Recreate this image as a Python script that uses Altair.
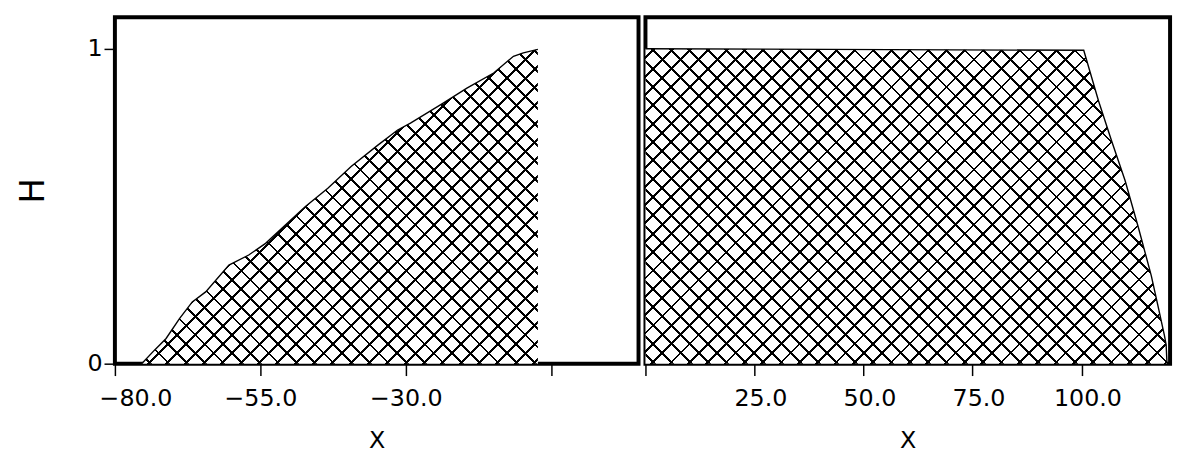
import math
import altair as alt
import pandas as pd

# ---- data ----
left_x = [-75.4, -73.2, -71.2, -68.9, -66.7, -64.4, -60.4, -57.0, -54.1, -50.7, -47.3,
          -43.4, -39.4, -34.8, -31.4, -29.2, -23.5, -19.5, -14.9, -11.5, -9.8, -7.3]
left_h = [0.0, 0.043, 0.080, 0.143, 0.196, 0.228, 0.313, 0.345, 0.382, 0.440, 0.498,
          0.557, 0.626, 0.694, 0.742, 0.764, 0.828, 0.875, 0.923, 0.976, 0.987, 0.998]

right_x = [0.0, 100.5, 103.9, 106.9, 110.0, 113.0, 116.0, 117.5, 119.0, 119.4, 119.6]
right_h = [1.0, 0.995, 0.834, 0.707, 0.581, 0.434, 0.279, 0.185, 0.090, 0.060, 0.0]

left_ticks = [-80, -55, -30, -5]
right_ticks = [0, 25, 50, 75, 100]

LEFT_DOMAIN = [-80, 10]
RIGHT_DOMAIN = [0, 120.3]
Y_DOMAIN = [0, 1.1]
LEFT_W = 529
RIGHT_W = 530
PANEL_H = 350
FONT = "DejaVu Sans"


def hatch(W, H, direction, on, off, spacing=13.1, lw=2.0):
    """Linear gradient that draws parallel 45-degree stripes over a bbox W x H (px)."""
    s = 1 / math.sqrt(2)
    L = (W + H) * s
    k = L / ((W * W + H * H) / 2)
    if direction == "back":      # "\" lines
        x1, y1, x2, y2 = 0, 1, k * s * W, 1 - k * s * H
    else:                        # "/" lines
        x1, y1, x2, y2 = 0, 0, k * s * W, k * s * H
    hw = lw / 2 / L
    stops = [alt.GradientStop(offset=0, color=off)]
    i = 0
    while True:
        t = (i + 0.5) * spacing / L
        if t - hw >= 1:
            break
        a = max(0.0, t - hw)
        b = min(1.0, t + hw)
        stops += [alt.GradientStop(offset=a, color=off), alt.GradientStop(offset=a, color=on),
                  alt.GradientStop(offset=b, color=on), alt.GradientStop(offset=b, color=off)]
        i += 1
    stops.append(alt.GradientStop(offset=1, color=off))
    return alt.LinearGradient(gradient="linear", stops=stops, x1=x1, y1=y1, x2=x2, y2=y2)


def panel(xs, hs, xdom, ticks, hidden, show_y, width):
    df = pd.DataFrame({"x": xs, "H": hs})
    W = (max(xs) - min(xs)) / (xdom[1] - xdom[0]) * width
    H = max(hs) / (Y_DOMAIN[1] - Y_DOMAIN[0]) * PANEL_H
    axis_opts = dict(values=ticks, format=".1f",
                     labelExpr=f"datum.value == {hidden} ? '' : datum.label",
                     title="X", tickSize=12, labelPadding=11,
                     titleBaseline="middle", titleY=78)
    if show_y:
        axis_opts.update(labelFlush=True, labelFlushOffset=16)
    else:
        axis_opts.update(labelOffset=6)
    xenc = alt.X(
        "x:Q",
        scale=alt.Scale(domain=xdom, nice=False, zero=False),
        axis=alt.Axis(**axis_opts),
    )
    if show_y:
        yaxis = alt.Axis(values=[0, 1], format="d", title="H", tickSize=11, labelPadding=2,
                         titleFontSize=34, titleX=-82, titleY=175,
                         titleBaseline="middle", titleAlign="center")
    else:
        yaxis = None
    yenc = alt.Y("H:Q", scale=alt.Scale(domain=Y_DOMAIN, nice=False), axis=yaxis)
    base = alt.Chart(df).encode(x=xenc, y=yenc)
    a1 = base.mark_area(color=hatch(W, H, "fwd", "black", "white"))
    a2 = base.mark_area(color=hatch(W, H, "back", "black", "rgba(255,255,255,0)"))
    ln = base.mark_line(color="black", strokeWidth=1.4)
    return alt.layer(a1, a2, ln).properties(width=width, height=PANEL_H)


left = panel(left_x, left_h, LEFT_DOMAIN, left_ticks, -5, True, LEFT_W)
right = panel(right_x, right_h, RIGHT_DOMAIN, right_ticks, 0, False, RIGHT_W)

chart = (
    alt.hconcat(left, right, spacing=0)
    .properties(padding={"left": 7, "top": 5, "right": 5, "bottom": 5}, background="white")
    .configure_view(stroke="black", strokeWidth=4)
    .configure_axis(
        labelFont=FONT, labelFontSize=24, labelColor="black",
        titleFont=FONT, titleFontSize=24, titleFontWeight="normal", titleColor="black",
        tickColor="black", tickWidth=1.5, domain=False, grid=False,
    )
)

chart.save("out.html", embed_options={"renderer": "svg", "actions": False})
